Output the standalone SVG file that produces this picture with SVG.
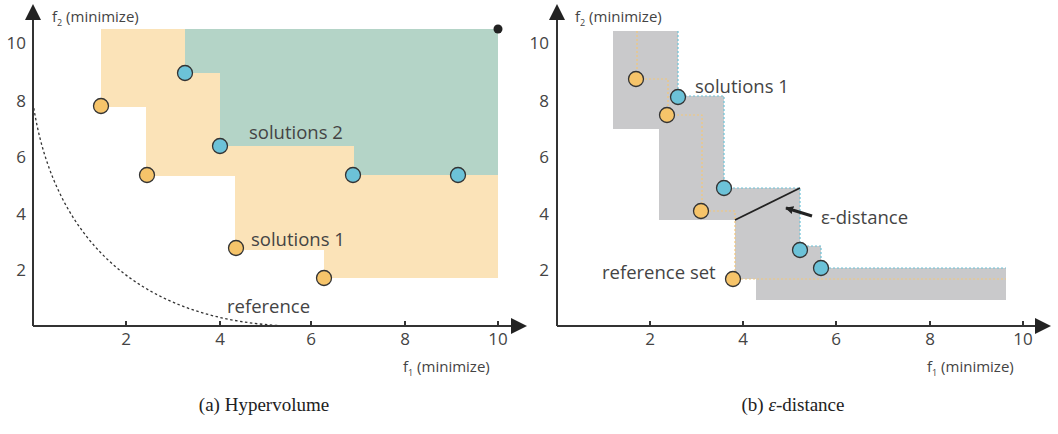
<svg xmlns="http://www.w3.org/2000/svg" width="1058" height="434" viewBox="0 0 1058 434">
<defs>
<style>
.t{font-family:"Open Sans","Liberation Sans",sans-serif;font-size:15px;fill:#444}
.l{font-family:"Open Sans","Liberation Sans",sans-serif;font-size:18.5px;fill:#444}
.tk{font-family:"Open Sans","Liberation Sans",sans-serif;font-size:17px;fill:#444}
.cap{font-family:"Liberation Serif",serif;font-size:19px;fill:#222}
.ax{stroke:#333;stroke-width:2;fill:none}
.o{fill:#f6c46a;stroke:#333;stroke-width:1.3}
.b{fill:#6cc2d8;stroke:#333;stroke-width:1.3}
.od{fill:none;stroke:#f3c77a;stroke-width:1.2;stroke-dasharray:2 2}
.bd{fill:none;stroke:#6cc2d8;stroke-width:1.2;stroke-dasharray:2 2}
</style>
<marker id="ar" viewBox="0 0 10 10" refX="9" refY="5" markerWidth="8" markerHeight="8" orient="auto-start-reverse" markerUnits="userSpaceOnUse"><path d="M0,0 L10,5 L0,10 z" fill="#222"/></marker>
</defs>
<g id="plotA">
<polygon fill="#fbe3b8" points="101,29 498,29 498,278 324,278 324,250 235,250 235,176 146,176 146,107 101,107"/>
<polygon fill="#b4d4c7" points="185,29 498,29 498,175 354,175 354,146 220,146 220,73 185,73"/>
<path d="M33,103 C55,250 150,322 290,326" fill="none" stroke="#333" stroke-width="1.3" stroke-dasharray="2.5 2.5"/>
<path class="ax" d="M33,326 V8 M33,326 H522"/>
<polygon points="33,4 25,20 41,20" fill="#222"/>
<polygon points="527,326 511,318 511,334" fill="#222"/>
<g class="ax" stroke-width="1.5"><path d="M126,326v-5M220,326v-5M311,326v-5M405,326v-5M498,326v-5"/></g>
<g class="tk" text-anchor="middle"><text x="126" y="345">2</text><text x="220" y="345">4</text><text x="311" y="345">6</text><text x="405" y="345">8</text><text x="498" y="345">10</text></g>
<g class="tk" text-anchor="end"><text x="26" y="49">10</text><text x="26" y="107">8</text><text x="26" y="163">6</text><text x="26" y="220">4</text><text x="26" y="276">2</text></g>
<text class="t" x="52" y="22">f<tspan font-size="9" dy="4">2</tspan><tspan dy="-4"> (minimize)</tspan></text>
<text class="t" x="403" y="372">f<tspan font-size="9" dy="4">1</tspan><tspan dy="-4"> (minimize)</tspan></text>
<circle class="o" cx="101" cy="106" r="7.5"/><circle class="o" cx="147" cy="175" r="7.5"/><circle class="o" cx="236" cy="248" r="7.5"/><circle class="o" cx="324" cy="278" r="7.5"/>
<circle class="b" cx="185" cy="73" r="7.5"/><circle class="b" cx="220" cy="146" r="7.5"/><circle class="b" cx="353" cy="175" r="7.5"/><circle class="b" cx="458" cy="175" r="7.5"/>
<circle cx="498" cy="29" r="4.5" fill="#222"/>
<text class="l" x="249" y="139">solutions 2</text>
<text class="l" x="251" y="246">solutions 1</text>
<text class="l" x="227" y="313">reference</text>
<text class="cap" x="264" y="411" text-anchor="middle">(a) Hypervolume</text>
</g>
<g id="plotB">
<polygon fill="#c9c9cb" points="613,31 678,31 678,96 724,96 724,188 800,188 800,246 821,246 821,268 1006,268 1006,300 756,300 756,279 735,279 735,220 659,220 659,129 613,129"/>
<path class="bd" d="M678,31 V96 H724 V188 H800 V246 H821 V268 H1006"/>
<path class="od" d="M637,31 V79 H668 V115 H702 V211 H735 V279 H1006"/>
<path class="ax" d="M557,326 V8 M557,326 H1046"/>
<polygon points="557,4 549,20 565,20" fill="#222"/>
<polygon points="1051,326 1035,318 1035,334" fill="#222"/>
<g class="ax" stroke-width="1.5"><path d="M650,326v-5M743,326v-5M836,326v-5M930,326v-5M1023,326v-5"/></g>
<g class="tk" text-anchor="middle"><text x="650" y="345">2</text><text x="743" y="345">4</text><text x="836" y="345">6</text><text x="930" y="345">8</text><text x="1023" y="345">10</text></g>
<g class="tk" text-anchor="end"><text x="549" y="49">10</text><text x="549" y="107">8</text><text x="549" y="163">6</text><text x="549" y="220">4</text><text x="549" y="276">2</text></g>
<text class="t" x="575" y="22">f<tspan font-size="9" dy="4">2</tspan><tspan dy="-4"> (minimize)</tspan></text>
<text class="t" x="927" y="372">f<tspan font-size="9" dy="4">1</tspan><tspan dy="-4"> (minimize)</tspan></text>
<circle class="o" cx="636" cy="79" r="7.5"/><circle class="o" cx="667" cy="115" r="7.5"/><circle class="o" cx="701" cy="211" r="7.5"/><circle class="o" cx="733" cy="279" r="7.5"/>
<circle class="b" cx="678" cy="97" r="7.5"/><circle class="b" cx="724" cy="188" r="7.5"/><circle class="b" cx="800" cy="250" r="7.5"/><circle class="b" cx="821" cy="268" r="7.5"/>
<line x1="735" y1="220" x2="800" y2="188" stroke="#222" stroke-width="1.8"/>
<line x1="812" y1="216" x2="786" y2="208" stroke="#222" stroke-width="3" marker-end="url(#ar)"/>
<text class="l" x="821" y="224">ε-distance</text>
<text class="l" x="695" y="93">solutions 1</text>
<text class="l" x="602" y="279">reference set</text>
<text class="cap" x="793" y="411" text-anchor="middle">(b) <tspan font-style="italic">ε</tspan>-distance</text>
</g>
</svg>
